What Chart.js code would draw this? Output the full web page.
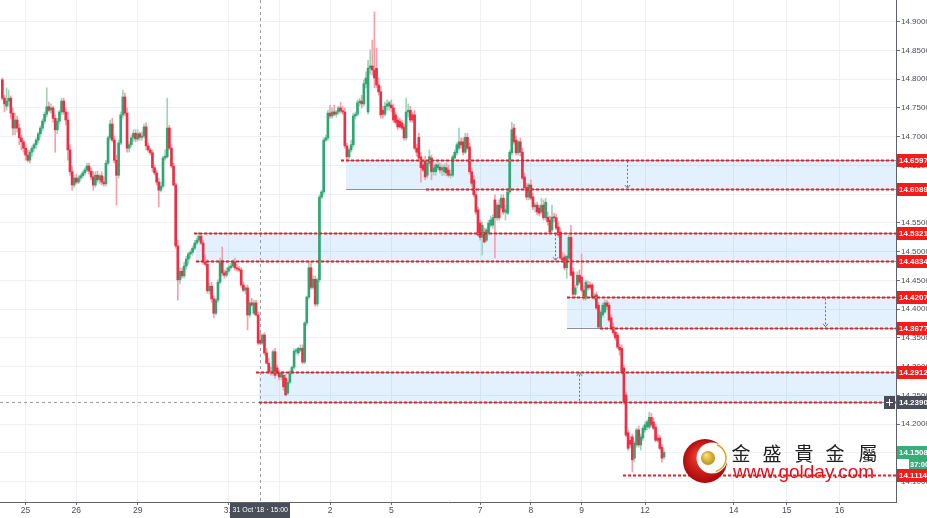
<!DOCTYPE html>
<html>
<head>
<meta charset="utf-8">
<script src="https://cdn.jsdelivr.net/npm/chart.js@4.4.1/dist/chart.umd.min.js"></script>
<style>
html,body{margin:0;padding:0;background:#ffffff;overflow:hidden;}
#box{position:relative;width:927px;height:518px;}
canvas{display:block;}
</style>
</head>
<body>
<div id="box"><canvas id="chart" width="927" height="518"></canvas></div>
<script>
// ---------------- DATA (hourly candles, USD/ZAR) ----------------
const firstBar = -11; // bar index of the first candle (bar 0 = 25 Oct 00:00)
const opens = [
14.799,14.767,14.753,14.762,14.767,14.741,14.715,14.729,14.715,14.698,
14.691,14.680,14.668,14.659,14.673,14.680,14.686,14.694,14.705,14.715,
14.727,14.739,14.752,14.746,14.750,14.732,14.712,14.727,14.743,14.762,
14.743,14.729,14.677,14.639,14.616,14.628,14.621,14.628,14.632,14.637,
14.642,14.649,14.640,14.630,14.616,14.633,14.625,14.632,14.621,14.618,
14.654,14.698,14.722,14.694,14.659,14.633,14.689,14.738,14.769,14.741,
14.680,14.686,14.698,14.706,14.696,14.705,14.699,14.701,14.717,14.684,
14.677,14.672,14.646,14.637,14.621,14.607,14.614,14.663,14.665,14.715,
14.680,14.649,14.616,14.510,14.451,14.466,14.458,14.475,14.487,14.496,
14.499,14.506,14.515,14.520,14.527,14.515,14.482,14.478,14.432,14.440,
14.418,14.393,14.416,14.447,14.484,14.463,14.459,14.466,14.472,14.475,
14.482,14.472,14.470,14.468,14.442,14.433,14.437,14.390,14.411,14.393,
14.411,14.390,14.346,14.341,14.355,14.324,14.306,14.291,14.289,14.326,
14.298,14.289,14.282,14.285,14.280,14.254,14.273,14.291,14.299,14.327,
14.324,14.329,14.332,14.308,14.376,14.421,14.472,14.438,14.452,14.409,
14.451,14.595,14.604,14.694,14.698,14.741,14.736,14.743,14.739,14.743,
14.750,14.745,14.743,14.684,14.665,14.677,14.686,14.736,14.739,14.759,
14.762,14.757,14.792,14.743,14.819,14.823,14.816,14.819,14.790,14.778,
14.746,14.739,14.753,14.753,14.755,14.750,14.738,14.729,14.727,14.724,
14.717,14.698,14.743,14.746,14.738,14.738,14.680,14.699,14.665,14.651,
14.659,14.633,14.654,14.663,14.639,14.639,14.646,14.647,14.642,14.639,
14.646,14.642,14.633,14.633,14.663,14.672,14.680,14.691,14.691,14.673,
14.699,14.682,14.639,14.625,14.599,14.573,14.550,14.525,14.534,14.520,
14.532,14.546,14.546,14.590,14.559,14.581,14.576,14.593,14.569,14.567,
14.604,14.672,14.715,14.694,14.672,14.691,14.673,14.630,14.612,14.595,
14.616,14.595,14.578,14.581,14.576,14.569,14.581,14.559,14.560,14.555,
14.538,14.560,14.559,14.543,14.534,14.489,14.491,14.472,14.489,14.525,
14.465,14.426,14.442,14.459,14.456,14.433,14.419,14.442,14.442,14.442,
14.421,14.425,14.407,14.369,14.390,14.395,14.411,14.407,14.385,14.369,
14.360,14.355,14.334,14.332,14.298,14.251,14.185,14.172,14.178,14.141,
14.164,14.190,14.164,14.176,14.190,14.195,14.195,14.212,14.204,14.195,
14.176,14.176,14.160,14.143];
const highs = [
14.802,14.772,14.785,14.781,14.771,14.750,14.741,14.736,14.722,14.703,
14.694,14.686,14.677,14.677,14.684,14.689,14.698,14.708,14.719,14.731,
14.743,14.785,14.760,14.757,14.753,14.738,14.732,14.746,14.767,14.767,
14.750,14.743,14.686,14.649,14.633,14.635,14.632,14.635,14.640,14.646,
14.654,14.654,14.646,14.639,14.639,14.640,14.635,14.639,14.630,14.659,
14.701,14.729,14.732,14.701,14.668,14.694,14.743,14.781,14.776,14.750,
14.691,14.703,14.712,14.712,14.712,14.708,14.708,14.722,14.724,14.689,
14.680,14.677,14.651,14.642,14.628,14.621,14.666,14.677,14.767,14.720,
14.686,14.654,14.619,14.520,14.472,14.472,14.482,14.492,14.499,14.503,
14.510,14.520,14.524,14.534,14.531,14.520,14.494,14.486,14.445,14.447,
14.423,14.419,14.451,14.489,14.508,14.468,14.472,14.477,14.480,14.486,
14.489,14.478,14.475,14.472,14.447,14.440,14.442,14.416,14.419,14.416,
14.416,14.395,14.359,14.357,14.359,14.332,14.315,14.299,14.329,14.332,
14.303,14.294,14.291,14.291,14.287,14.277,14.294,14.301,14.331,14.332,
14.334,14.338,14.338,14.378,14.423,14.482,14.482,14.458,14.458,14.454,
14.599,14.607,14.698,14.703,14.746,14.755,14.750,14.755,14.746,14.753,
14.760,14.753,14.750,14.689,14.680,14.694,14.741,14.743,14.764,14.767,
14.772,14.799,14.813,14.833,14.851,14.868,14.917,14.854,14.802,14.788,
14.753,14.760,14.764,14.762,14.764,14.757,14.743,14.734,14.732,14.729,
14.722,14.767,14.757,14.753,14.743,14.746,14.687,14.706,14.673,14.659,
14.666,14.659,14.677,14.668,14.651,14.654,14.656,14.654,14.651,14.652,
14.654,14.651,14.642,14.668,14.677,14.689,14.715,14.698,14.698,14.706,
14.706,14.689,14.646,14.632,14.604,14.578,14.555,14.552,14.541,14.541,
14.555,14.562,14.564,14.599,14.585,14.590,14.599,14.599,14.581,14.607,
14.677,14.725,14.722,14.701,14.694,14.698,14.680,14.637,14.619,14.619,
14.625,14.602,14.585,14.586,14.581,14.593,14.590,14.593,14.569,14.562,
14.581,14.567,14.565,14.552,14.541,14.499,14.496,14.494,14.529,14.546,
14.472,14.442,14.465,14.468,14.496,14.440,14.451,14.449,14.447,14.445,
14.428,14.430,14.412,14.399,14.411,14.416,14.416,14.412,14.390,14.376,
14.364,14.359,14.339,14.338,14.303,14.256,14.190,14.179,14.183,14.171,
14.193,14.197,14.183,14.197,14.204,14.207,14.221,14.219,14.211,14.200,
14.183,14.181,14.165,14.155];
const lows = [
14.764,14.743,14.746,14.753,14.732,14.703,14.703,14.708,14.686,14.677,
14.673,14.659,14.656,14.654,14.666,14.675,14.680,14.689,14.699,14.710,
14.722,14.734,14.743,14.741,14.725,14.673,14.705,14.722,14.738,14.739,
14.720,14.659,14.633,14.607,14.612,14.618,14.618,14.623,14.628,14.633,
14.639,14.635,14.625,14.607,14.612,14.621,14.618,14.616,14.614,14.614,
14.651,14.694,14.691,14.654,14.581,14.628,14.686,14.732,14.736,14.673,
14.673,14.682,14.692,14.691,14.692,14.694,14.694,14.698,14.677,14.673,
14.668,14.639,14.633,14.616,14.578,14.604,14.611,14.659,14.663,14.677,
14.646,14.614,14.506,14.416,14.444,14.454,14.454,14.470,14.478,14.489,
14.494,14.503,14.512,14.517,14.512,14.478,14.475,14.428,14.426,14.412,
14.385,14.390,14.412,14.444,14.458,14.454,14.456,14.463,14.468,14.472,
14.468,14.466,14.465,14.438,14.430,14.426,14.364,14.386,14.405,14.390,
14.388,14.338,14.339,14.338,14.320,14.305,14.289,14.285,14.285,14.280,
14.285,14.277,14.277,14.259,14.249,14.251,14.270,14.287,14.296,14.322,
14.320,14.326,14.305,14.305,14.372,14.418,14.435,14.435,14.405,14.405,
14.447,14.592,14.600,14.691,14.694,14.732,14.732,14.736,14.734,14.739,
14.741,14.739,14.680,14.659,14.661,14.673,14.682,14.731,14.736,14.753,
14.750,14.753,14.785,14.739,14.809,14.807,14.785,14.785,14.772,14.732,
14.732,14.736,14.746,14.746,14.743,14.725,14.722,14.712,14.715,14.712,
14.694,14.694,14.734,14.725,14.725,14.677,14.666,14.659,14.621,14.639,
14.625,14.628,14.649,14.625,14.633,14.633,14.642,14.637,14.632,14.633,
14.632,14.630,14.628,14.630,14.659,14.668,14.677,14.680,14.668,14.670,
14.677,14.635,14.614,14.595,14.565,14.527,14.520,14.494,14.515,14.517,
14.529,14.543,14.541,14.489,14.555,14.555,14.573,14.565,14.555,14.564,
14.600,14.668,14.687,14.668,14.668,14.666,14.625,14.607,14.590,14.590,
14.590,14.573,14.569,14.564,14.562,14.565,14.555,14.555,14.546,14.531,
14.534,14.552,14.538,14.525,14.486,14.482,14.468,14.454,14.486,14.458,
14.423,14.421,14.438,14.444,14.430,14.416,14.416,14.433,14.435,14.418,
14.416,14.399,14.367,14.367,14.386,14.393,14.399,14.378,14.364,14.355,
14.346,14.331,14.320,14.287,14.235,14.178,14.155,14.160,14.117,14.134,
14.160,14.160,14.155,14.172,14.186,14.190,14.192,14.195,14.190,14.169,
14.169,14.155,14.134,14.139];
const closes = [
14.767,14.757,14.762,14.767,14.741,14.715,14.729,14.715,14.698,14.691,
14.680,14.668,14.659,14.673,14.680,14.686,14.694,14.705,14.715,14.727,
14.739,14.752,14.746,14.750,14.732,14.712,14.727,14.743,14.762,14.743,
14.729,14.677,14.639,14.616,14.628,14.621,14.628,14.632,14.637,14.642,
14.649,14.640,14.630,14.616,14.633,14.625,14.632,14.621,14.618,14.654,
14.698,14.722,14.694,14.659,14.633,14.689,14.738,14.769,14.741,14.680,
14.686,14.698,14.706,14.696,14.705,14.699,14.701,14.717,14.684,14.677,
14.672,14.646,14.637,14.621,14.607,14.614,14.663,14.666,14.715,14.680,
14.649,14.616,14.510,14.451,14.466,14.458,14.475,14.487,14.496,14.499,
14.506,14.515,14.520,14.527,14.515,14.482,14.478,14.432,14.440,14.418,
14.393,14.416,14.447,14.484,14.463,14.459,14.466,14.472,14.475,14.482,
14.472,14.470,14.468,14.442,14.433,14.437,14.390,14.411,14.407,14.411,
14.390,14.341,14.341,14.355,14.324,14.306,14.291,14.289,14.326,14.285,
14.289,14.282,14.289,14.265,14.251,14.273,14.291,14.299,14.327,14.329,
14.332,14.332,14.308,14.376,14.421,14.472,14.438,14.452,14.409,14.451,
14.595,14.604,14.694,14.698,14.741,14.736,14.743,14.739,14.743,14.750,
14.745,14.743,14.684,14.665,14.677,14.686,14.736,14.739,14.759,14.762,
14.757,14.792,14.802,14.819,14.823,14.816,14.802,14.790,14.778,14.738,
14.739,14.753,14.757,14.759,14.750,14.729,14.725,14.717,14.717,14.715,
14.698,14.743,14.746,14.729,14.729,14.680,14.673,14.663,14.646,14.642,
14.630,14.654,14.665,14.639,14.646,14.651,14.651,14.642,14.646,14.647,
14.637,14.633,14.635,14.665,14.673,14.686,14.691,14.686,14.673,14.699,
14.680,14.639,14.619,14.599,14.569,14.529,14.525,14.546,14.517,14.538,
14.550,14.555,14.559,14.559,14.581,14.559,14.593,14.569,14.573,14.604,
14.673,14.712,14.691,14.672,14.691,14.673,14.628,14.611,14.595,14.616,
14.593,14.578,14.581,14.569,14.567,14.581,14.559,14.586,14.552,14.534,
14.560,14.559,14.541,14.529,14.489,14.486,14.472,14.492,14.525,14.459,
14.426,14.437,14.459,14.447,14.433,14.423,14.447,14.437,14.438,14.421,
14.423,14.402,14.369,14.395,14.407,14.411,14.405,14.381,14.367,14.359,
14.350,14.334,14.329,14.291,14.239,14.181,14.158,14.165,14.138,14.167,
14.190,14.164,14.178,14.193,14.199,14.204,14.212,14.199,14.193,14.172,
14.172,14.158,14.141,14.15085];

// x-axis day ticks (bar index where each day starts) and labels
const dayTickBars   = [0, 24, 53, 96, 120, 144, 173, 215, 239, 263, 293, 335, 360, 385];
const dayTickLabels = ['25','26','29','31','1','2','5','7','8','9','12','14','15','16'];
// y-axis ticks
const priceTicks = [14.10,14.15,14.20,14.25,14.30,14.35,14.40,14.45,14.50,14.55,14.60,14.65,14.70,14.75,14.80,14.85,14.90];

// drawn zones (rectangles) : top / bottom price, anchor bars
const zoneTop         = [14.65976, 14.53214, 14.42079, 14.29126];
const zoneBottom      = [14.60892, 14.48347, 14.36776, 14.23908];
const zoneStartBar    = [151.6, 80.6, 256.1, 110.4];
const zoneTopRayBar   = [149.2, 79.7, 256.1, 109.0];
const zoneBotRayBar   = [189.4, 80.6, 271.7, 110.4];
const zoneArrowBar    = [284.3, 250.4, 378.2, 261.6];
const zoneArrowUp     = [false, false, false, true];
const supportLevel    = 14.11147;
const supportStartBar = 282.6;
const crosshairBar    = 111;          // 31 Oct '18 15:00
const crosshairPrice  = 14.23908;
const crosshairText   = "31 Oct '18 \u00b7 15:00";
const lastPrice       = 14.15085;
const countdownText   = '37:00';

// ---------------- CHART ----------------
const UP = '#2fa673', DOWN = '#ee2e45';
const UP_W = '#9fd4bb', DOWN_W = '#f4a0ab';
const bars = opens.map((_, k) => firstBar + k);
const isUp = opens.map((o, k) => closes[k] >= o);
const FONT = "'Liberation Sans', Arial, sans-serif";

Chart.defaults.font.family = FONT;

function hline(ctx, x1, x2, yy) { ctx.beginPath(); ctx.moveTo(x1, yy); ctx.lineTo(x2, yy); ctx.stroke(); }

const overlay = {
  id: 'overlay',
  beforeDatasetsDraw(chart) {
    const {ctx, chartArea: ca, scales: {x, y}} = chart;
    ctx.save();
    ctx.beginPath(); ctx.rect(ca.left, ca.top, ca.right - ca.left, ca.bottom - ca.top); ctx.clip();
    ctx.fillStyle = 'rgba(33,150,243,0.13)';
    for (let k = 0; k < zoneTop.length; k++) {
      const x1 = x.getPixelForValue(zoneStartBar[k]);
      const y1 = y.getPixelForValue(zoneTop[k]);
      const y2 = y.getPixelForValue(zoneBottom[k]);
      ctx.fillRect(x1, y1, ca.right - x1, y2 - y1);
    }
    // crosshair
    ctx.strokeStyle = '#9a9ca3'; ctx.lineWidth = 1; ctx.setLineDash([3, 3]);
    const cx = Math.round(x.getPixelForValue(crosshairBar)) + 0.5;
    ctx.beginPath(); ctx.moveTo(cx, ca.top); ctx.lineTo(cx, ca.bottom); ctx.stroke();
    const cy = Math.round(y.getPixelForValue(crosshairPrice)) + 0.5;
    hline(ctx, ca.left, ca.right, cy);
    ctx.restore();
  },
  afterDatasetsDraw(chart) {
    const {ctx, chartArea: ca, scales: {x, y}} = chart;
    ctx.save();
    ctx.beginPath(); ctx.rect(ca.left, ca.top, ca.right - ca.left, ca.bottom - ca.top); ctx.clip();
    // rectangle borders (gray)
    ctx.strokeStyle = '#8d9099'; ctx.lineWidth = 1; ctx.setLineDash([]);
    for (let k = 0; k < zoneTop.length; k++) {
      const x1 = x.getPixelForValue(zoneStartBar[k]);
      hline(ctx, x1, ca.right, Math.round(y.getPixelForValue(zoneTop[k])) + 0.5);
      hline(ctx, x1, ca.right, Math.round(y.getPixelForValue(zoneBottom[k])) + 0.5);
    }
    // red dashed rays
    ctx.strokeStyle = '#ea1c26'; ctx.lineWidth = 1.8; ctx.setLineDash([3, 2]);
    for (let k = 0; k < zoneTop.length; k++) {
      hline(ctx, x.getPixelForValue(zoneTopRayBar[k]), ca.right, Math.round(y.getPixelForValue(zoneTop[k])) + 0.5);
      hline(ctx, x.getPixelForValue(zoneBotRayBar[k]), ca.right, Math.round(y.getPixelForValue(zoneBottom[k])) + 0.5);
    }
    hline(ctx, x.getPixelForValue(supportStartBar), ca.right, Math.round(y.getPixelForValue(supportLevel)) + 0.5);
    // range arrows
    ctx.strokeStyle = '#6f727a'; ctx.lineWidth = 1;
    for (let k = 0; k < zoneTop.length; k++) {
      const ax = Math.round(x.getPixelForValue(zoneArrowBar[k])) + 0.5;
      const yt = y.getPixelForValue(zoneTop[k]) + 1;
      const yb = y.getPixelForValue(zoneBottom[k]) - 1;
      const from = zoneArrowUp[k] ? yb : yt, to = zoneArrowUp[k] ? yt : yb;
      ctx.setLineDash([2, 2]);
      ctx.beginPath(); ctx.moveTo(ax, from); ctx.lineTo(ax, to); ctx.stroke();
      ctx.setLineDash([]);
      const d = zoneArrowUp[k] ? 1 : -1;
      ctx.beginPath(); ctx.moveTo(ax - 2.5, to + d * 3); ctx.lineTo(ax, to); ctx.lineTo(ax + 2.5, to + d * 3); ctx.stroke();
    }
    ctx.restore();
  },
  afterDraw(chart) {
    const {ctx, chartArea: ca, scales: {x, y}} = chart;
    ctx.save();
    const W = chart.width;
    function box(price, text, bg) {
      const yy = Math.round(y.getPixelForValue(price));
      ctx.fillStyle = bg;
      ctx.fillRect(ca.right + 1, yy - 6, W - ca.right - 1, 13);
      ctx.fillStyle = '#ffffff';
      ctx.font = 'bold 8px ' + FONT;
      ctx.textAlign = 'left'; ctx.textBaseline = 'middle';
      ctx.fillText(text, ca.right + 3, yy + 1);
    }
    const red = '#f41b1b';
    [zoneTop[0], zoneBottom[0], zoneTop[1], zoneBottom[1], zoneTop[2], zoneBottom[2], zoneTop[3], supportLevel]
      .forEach(p => box(p, p.toFixed(5), red));
    // crosshair price label + "+" button
    box(crosshairPrice, crosshairPrice.toFixed(5), '#4a4e59');
    const cyy = Math.round(y.getPixelForValue(crosshairPrice));
    ctx.fillStyle = '#4a4e59'; ctx.fillRect(ca.right - 12, cyy - 6, 11, 13);
    ctx.strokeStyle = '#ffffff'; ctx.lineWidth = 1;
    ctx.beginPath(); ctx.moveTo(ca.right - 10, cyy + 0.5); ctx.lineTo(ca.right - 3, cyy + 0.5);
    ctx.moveTo(ca.right - 6.5, cyy - 3); ctx.lineTo(ca.right - 6.5, cyy + 4); ctx.stroke();
    // last price label + countdown
    box(lastPrice, lastPrice.toFixed(5), '#3aac78');
    const ly = Math.round(y.getPixelForValue(lastPrice));
    ctx.fillStyle = '#3aac78'; ctx.fillRect(W - 18, ly + 7, 18, 10);
    ctx.fillStyle = '#ffffff'; ctx.font = 'bold 7.5px ' + FONT;
    ctx.textAlign = 'left'; ctx.textBaseline = 'middle';
    ctx.fillText(countdownText, W - 17, ly + 12.5);
    // crosshair time label
    const cx = x.getPixelForValue(crosshairBar);
    ctx.font = '7px ' + FONT;
    const tw = ctx.measureText(crosshairText).width + 5;
    ctx.fillStyle = '#4a4e59';
    ctx.fillRect(Math.round(cx - tw / 2), ca.bottom + 1, Math.round(tw), 15);
    ctx.fillStyle = '#ffffff'; ctx.textAlign = 'center'; ctx.textBaseline = 'middle';
    ctx.fillText(crosshairText, cx, ca.bottom + 8.5);
    // watermark logo
    const lx = 705, lyy = 461;
    const g = ctx.createRadialGradient(lx - 6, lyy - 6, 3, lx, lyy, 23);
    g.addColorStop(0, '#f03a2a'); g.addColorStop(1, '#a8070b');
    ctx.fillStyle = g; ctx.beginPath(); ctx.arc(lx, lyy, 22, 0, Math.PI * 2); ctx.fill();
    ctx.fillStyle = '#ffffff'; ctx.beginPath(); ctx.arc(lx + 7, lyy - 3, 15.5, 0, Math.PI * 2); ctx.fill();
    ctx.strokeStyle = '#d6a826'; ctx.lineWidth = 1.5;
    ctx.beginPath(); ctx.arc(lx + 7, lyy - 3, 14, -1.2, 1.3); ctx.stroke();
    const g2 = ctx.createRadialGradient(lx + 1, lyy - 6, 1, lx + 3, lyy - 3, 8);
    g2.addColorStop(0, '#f6dc70'); g2.addColorStop(1, '#b58a12');
    ctx.fillStyle = g2; ctx.beginPath(); ctx.arc(lx + 3, lyy - 3, 7, 0, Math.PI * 2); ctx.fill();
    // watermark text
    ctx.fillStyle = '#1e1e1e'; ctx.textAlign = 'center'; ctx.textBaseline = 'middle';
    ctx.font = "19px 'Noto Sans CJK TC', 'Noto Sans CJK SC', sans-serif";
    const chars = ['金', '盛', '貴', '金', '屬'];
    const cxs = [741, 772, 804, 835, 868];
    chars.forEach((c, k) => ctx.fillText(c, cxs[k], 454));
    ctx.fillStyle = '#e3101c'; ctx.textAlign = 'left'; ctx.textBaseline = 'alphabetic';
    ctx.font = '19px ' + FONT;
    ctx.fillText('www.golday.com', 733, 478);
    ctx.restore();
  }
};

new Chart(document.getElementById('chart'), {
  type: 'bar',
  data: {
    datasets: [
      {
        label: 'wick',
        data: bars.map((b, k) => ({x: b, y: [lows[k], highs[k]]})),
        backgroundColor: isUp.map(u => u ? UP_W : DOWN_W),
        barThickness: 1,
        grouped: false,
        order: 2
      },
      {
        label: 'body',
        data: bars.map((b, k) => ({x: b, y: [opens[k], closes[k]]})),
        backgroundColor: isUp.map(u => u ? UP : DOWN),
        barThickness: 2,
        minBarLength: 1,
        grouped: false,
        order: 1
      }
    ]
  },
  options: {
    responsive: false,
    maintainAspectRatio: false,
    animation: false,
    devicePixelRatio: 1,
    layout: {padding: 0},
    plugins: {legend: {display: false}, tooltip: {enabled: false}},
    scales: {
      x: {
        type: 'linear',
        min: -12.11,
        max: 411.73,
        offset: false,
        grid: {offset: false, color: '#eef0f4', tickColor: '#6b6e75', tickLength: 3, lineWidth: 1},
        border: {display: true, color: '#5e6168', width: 1},
        ticks: {
          autoSkip: false, maxRotation: 0, padding: 1, color: '#4a4d54',
          font: {size: 8.5},
          callback: (v) => { const k = dayTickBars.indexOf(v); return k >= 0 ? dayTickLabels[k] : ''; }
        },
        afterBuildTicks: (s) => { s.ticks = dayTickBars.map(v => ({value: v})); },
        afterFit: (s) => { s.height = 16; s.paddingLeft = 0; s.paddingRight = 0; }
      },
      y: {
        type: 'linear',
        position: 'right',
        min: 14.0647,
        max: 14.9377,
        grid: {color: '#eef0f4', tickColor: '#6b6e75', tickLength: 4, lineWidth: 1},
        border: {display: true, color: '#5e6168', width: 1},
        ticks: {padding: 1, color: '#4a4d54', font: {size: 8}, callback: (v) => Number(v).toFixed(4)},
        afterBuildTicks: (s) => { s.ticks = priceTicks.map(v => ({value: v})); },
        afterFit: (s) => { s.width = 31; s.paddingTop = 0; s.paddingBottom = 0; }
      }
    }
  },
  plugins: [overlay]
});
</script>
</body>
</html>
